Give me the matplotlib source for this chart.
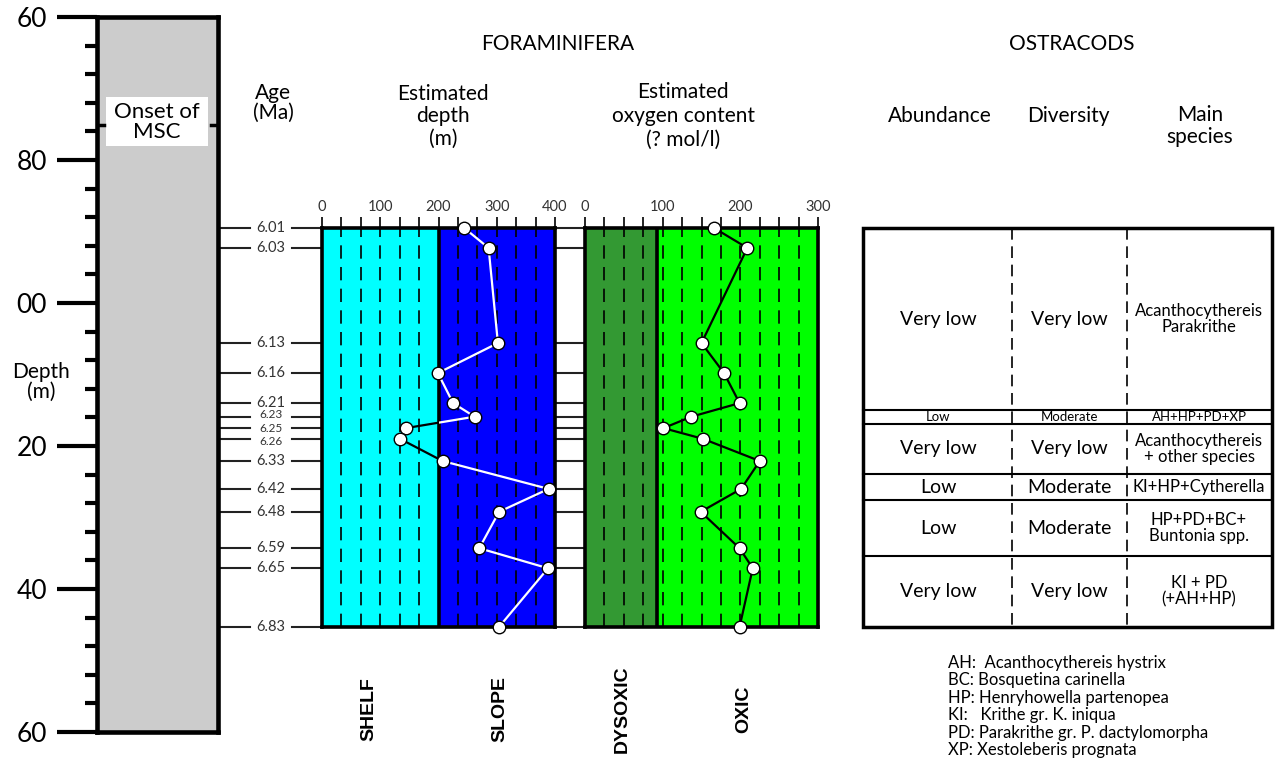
import numpy as np
import matplotlib.pyplot as plt
from matplotlib.patches import Rectangle
from matplotlib.ticker import FixedLocator, FixedFormatter, MultipleLocator

plt.rcParams['font.family'] = ['Lato', 'DejaVu Sans']

# sample ages (Ma) and their position in the section (m)
ages = ['6.01', '6.03', '6.13', '6.16', '6.21', '6.23', '6.25', '6.26',
        '6.33', '6.42', '6.48', '6.59', '6.65', '6.83']
sample_depth = [89.5, 92.3, 105.6, 109.8, 114.0, 115.9, 117.5, 119.0,
                122.1, 126.0, 129.2, 134.3, 137.1, 145.3]

# foraminifera estimates
paleo_depth = [244, 286, 302, 199, 225, 262, 144, 134, 207, 389, 304, 270, 388, 304]
oxygen = [166, 209, 150, 179, 199, 137, 101, 152, 225, 201, 149, 199, 216, 199]
shelf_limit = 200
dysoxic_limit = 93

depth_ticks = [60, 80, 100, 120, 140, 160]
depth_ticklabels = ['60', '80', '00', '20', '40', '60']
onset_msc = 75.1

# ostracod table
row_bounds = [89.5, 115.0, 116.9, 123.9, 127.6, 135.4, 145.3]
abundance = ['Very low', 'Low', 'Very low', 'Low', 'Low', 'Very low']
diversity = ['Very low', 'Moderate', 'Very low', 'Moderate', 'Moderate', 'Very low']
species = ['Acanthocythereis\nParakrithe', 'AH+HP+PD+XP',
           'Acanthocythereis\n+ other species', 'KI+HP+Cytherella',
           'HP+PD+BC+\nBuntonia spp.', 'KI + PD\n(+AH+HP)']
abbrev = ['AH:  Acanthocythereis hystrix',
          'BC: Bosquetina carinella',
          'HP: Henryhowella partenopea',
          'KI:   Krithe gr. K. iniqua',
          'PD: Parakrithe gr. P. dactylomorpha',
          'XP: Xestoleberis prognata']

# layout (pixels)
W, H = 1275, 760
TOP_PX, PX_PER_M = 17, 7.15


def px2m(y):
    return 60 + (y - TOP_PX) / PX_PER_M


def m2fig(d):
    return 1 - (TOP_PX + (d - 60) * PX_PER_M) / H


def add_ax(x0, x1, d0, d1):
    return fig.add_axes([x0 / W, m2fig(d1), (x1 - x0) / W, m2fig(d0) - m2fig(d1)])


fig = plt.figure(figsize=(W / 100, H / 100), dpi=100)

# background axes: x in pixels, y in section depth
ax = fig.add_axes([0, 0, 1, 1])
ax.set_xlim(0, W)
ax.set_ylim(px2m(H), px2m(0))
ax.axis('off')

# age lines (the three crowded labels are nudged apart a little)
nudge = {'6.23': -0.35, '6.26': 0.35}
for a, d in zip(ages, sample_depth):
    ax.plot([218, 250], [d, d], color='#222222', lw=1.5)
    ax.plot([292, 585], [d, d], color='#222222', lw=1.5)
    crowded = a in ('6.23', '6.25', '6.26')
    ax.text(271, d + nudge.get(a, 0), a, ha='center', va='center',
            fontsize=8.5 if crowded else 10.5, color='#333333')

# column with depth scale
axc = add_ax(97, 218, 60, 160)
axc.set_xlim(97, 218)
axc.set_ylim(160, 60)
axc.set_facecolor('#cccccc')
for s in axc.spines.values():
    s.set_linewidth(3.3)
axc.set_xticks([])
axc.yaxis.set_major_locator(FixedLocator(depth_ticks))
axc.yaxis.set_major_formatter(FixedFormatter(depth_ticklabels))
axc.yaxis.set_minor_locator(MultipleLocator(4))
axc.tick_params(axis='y', which='major', length=29, width=3, labelsize=19, pad=7)
axc.tick_params(axis='y', which='minor', length=9, width=3)
axc.add_patch(Rectangle((106, px2m(97)), 102, px2m(146) - px2m(97),
                        facecolor='white', edgecolor='none', zorder=3))
axc.text(157, px2m(122), 'Onset of\nMSC', ha='center', va='center',
         fontsize=16, linespacing=1.0, zorder=4)
axc.plot([97, 104], [onset_msc, onset_msc], color='black', lw=2.5, zorder=4)
axc.plot([211, 218], [onset_msc, onset_msc], color='black', lw=2.5, zorder=4)
ax.text(41, px2m(382), 'Depth\n(m)', ha='center', va='center', fontsize=15, linespacing=1.0)


def panel(x0, x1, xmax, minor):
    p = add_ax(x0, x1, sample_depth[0], sample_depth[-1])
    p.set_xlim(0, xmax)
    p.set_ylim(sample_depth[-1], sample_depth[0])
    p.set_yticks([])
    p.xaxis.tick_top()
    p.xaxis.set_major_locator(MultipleLocator(100))
    p.xaxis.set_minor_locator(MultipleLocator(minor))
    p.tick_params(axis='x', which='both', length=8, width=1.2, labelsize=10.5,
                  labelcolor='#333333', pad=2)
    for s in p.spines.values():
        s.set_linewidth(2.6)
    n = int(round(xmax / minor))
    for k in range(1, n):
        p.axvline(k * minor, color='black', lw=1.2, ls=(0, (8, 5)), zorder=1)
    return p


# estimated depth
axd = panel(322, 555, 400, 100 / 3)
axd.axvspan(0, shelf_limit, color='#00ffff', zorder=0)
axd.axvspan(shelf_limit, 400, color='#0000ff', zorder=0)
axd.axvline(shelf_limit, color='black', lw=2.6, zorder=2)
l1, = axd.plot(paleo_depth, sample_depth, color='white', lw=1.6, zorder=3)
l1.set_clip_path(Rectangle((shelf_limit, 0), 400, 200, transform=axd.transData))
l2, = axd.plot(paleo_depth, sample_depth, color='black', lw=1.6, zorder=3)
l2.set_clip_path(Rectangle((-10, 0), shelf_limit + 10, 200, transform=axd.transData))
axd.plot(paleo_depth, sample_depth, 'o', mfc='white', mec='black', mew=1, ms=9,
         clip_on=False, zorder=4)

# estimated oxygen content
axo = panel(585, 818, 300, 25)
axo.axvspan(0, dysoxic_limit, color='#339933', zorder=0)
axo.axvspan(dysoxic_limit, 300, color='#00ff00', zorder=0)
axo.axvline(dysoxic_limit, color='black', lw=2.6, zorder=2)
axo.plot(oxygen, sample_depth, color='black', lw=1.6, zorder=3)
axo.plot(oxygen, sample_depth, 'o', mfc='white', mec='black', mew=1, ms=9,
         clip_on=False, zorder=4)

# environment labels
for x, s in [(369, 'SHELF'), (500, 'SLOPE'), (622, 'DYSOXIC'), (744, 'OXIC')]:
    ax.text(x, px2m(709), s, rotation=90, ha='center', va='center', fontsize=14,
            fontweight='bold', family='Liberation Sans')

# ostracod table
cols = [863, 1012, 1127, 1272]
ax.add_patch(Rectangle((cols[0], row_bounds[0]), cols[-1] - cols[0],
                       row_bounds[-1] - row_bounds[0], fill=False, lw=2.5, zorder=3))
for b in row_bounds[1:-1]:
    ax.plot([cols[0], cols[-1]], [b, b], color='black', lw=1.5)
for c in cols[1:-1]:
    ax.plot([c, c], [row_bounds[0], row_bounds[-1]], color='black', lw=1.2, ls=(0, (7, 4)))
for i in range(len(abundance)):
    ym = (row_bounds[i] + row_bounds[i + 1]) / 2
    small = row_bounds[i + 1] - row_bounds[i] < 3
    fs = 9.5 if small else 14
    ax.text(938, ym, abundance[i], ha='center', va='center', fontsize=fs)
    ax.text(1069, ym, diversity[i], ha='center', va='center', fontsize=fs)
    ax.text(1199, ym, species[i], ha='center', va='center',
            fontsize=9.5 if small else 12, linespacing=1.0)

# headers
ax.text(558, px2m(44), 'FORAMINIFERA', ha='center', va='center', fontsize=15)
ax.text(1072, px2m(44), 'OSTRACODS', ha='center', va='center', fontsize=15)
ax.text(273, px2m(103), 'Age\n(Ma)', ha='center', va='center', fontsize=15, linespacing=1.0)
ax.text(443, px2m(116), 'Estimated\ndepth\n(m)', ha='center', va='center',
        fontsize=15, linespacing=1.15)
ax.text(683, px2m(116), 'Estimated\noxygen content\n(? mol/l)', ha='center', va='center',
        fontsize=15, linespacing=1.25)
ax.text(940, px2m(116), 'Abundance', ha='center', va='center', fontsize=15)
ax.text(1068, px2m(116), 'Diversity', ha='center', va='center', fontsize=15)
ax.text(1200, px2m(126), 'Main\nspecies', ha='center', va='center', fontsize=15,
        linespacing=1.15)

# abbreviations
for i, s in enumerate(abbrev):
    ax.text(948, px2m(663 + i * 17.4), s, ha='left', va='center', fontsize=12)

fig.savefig('out.png', dpi=100)
